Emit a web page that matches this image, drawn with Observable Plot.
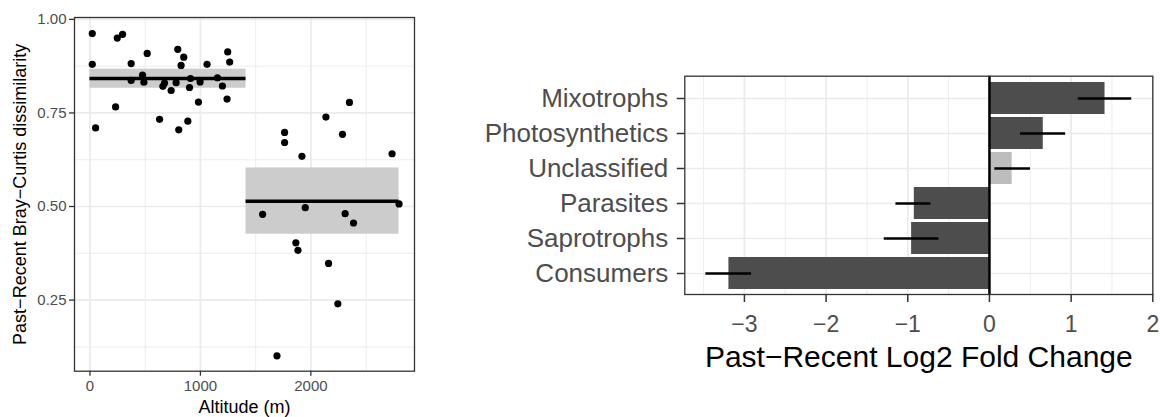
<!DOCTYPE html>
<html>
<head>
<meta charset="utf-8">
<script src="https://cdn.jsdelivr.net/npm/d3@7"></script>
<script src="https://cdn.jsdelivr.net/npm/@observablehq/plot@0.6"></script>
<style>
  html, body { margin: 0; padding: 0; background: white; }
  #wrap { position: relative; width: 1160px; height: 417px; overflow: hidden; background: white; }
  #left { position: absolute; left: 0; top: 0; }
  #right { position: absolute; left: 460px; top: 0; }
</style>
</head>
<body>
<div id="wrap"><div id="left"></div><div id="right"></div></div>
<script>
// ---- Left panel data: altitude vs past-recent Bray-Curtis dissimilarity ----
const altitude = [21, 21, 51, 232, 247, 295, 373, 373, 476, 488, 518, 630, 660, 675, 735, 780, 795, 804, 849, 825, 910, 901, 886, 982, 997, 1060, 1154, 1199, 1241, 1247, 1265,
  1563, 1693, 1762, 1762, 1919, 1864, 1883, 1949, 2136, 2160, 2244, 2286, 2310, 2349, 2386, 2735, 2798];
const dissimilarity = [0.962, 0.880, 0.710, 0.766, 0.950, 0.960, 0.882, 0.837, 0.851, 0.832, 0.909, 0.733, 0.821, 0.830, 0.810, 0.831, 0.920, 0.705, 0.899, 0.877, 0.842, 0.818, 0.728, 0.779, 0.833, 0.880, 0.844, 0.822, 0.787, 0.913, 0.886,
  0.479, 0.101, 0.698, 0.671, 0.634, 0.403, 0.383, 0.497, 0.739, 0.348, 0.240, 0.693, 0.481, 0.778, 0.456, 0.641, 0.507];
const groupStart = [0, 1413];
const groupEnd = [1413, 2798];
const groupMean = [0.842, 0.514];
const groupLow = [0.816, 0.426];
const groupHigh = [0.867, 0.603];

const altTicks = [0, 1000, 2000];
const altMinor = [500, 1500, 2500];
const dissTicks = [0.25, 0.50, 0.75, 1.00];
const dissMinor = [0.125, 0.375, 0.625, 0.875];

// ---- Right panel data: log2 fold change by trophic group ----
const categories = ["Mixotrophs", "Photosynthetics", "Unclassified", "Parasites", "Saprotrophs", "Consumers"];
const foldChange = [1.415, 0.659, 0.278, -0.920, -0.953, -3.19];
const foldLow = [1.088, 0.380, 0.066, -1.145, -1.288, -3.472];
const foldHigh = [1.742, 0.933, 0.503, -0.716, -0.618, -2.912];
const significant = [true, true, false, true, true, true];

const fcTicks = [-3, -2, -1, 0, 1, 2];
const fcMinor = [-3.5, -2.5, -1.5, -0.5, 0.5, 1.5];

const font = "'Liberation Sans', Arial, Helvetica, sans-serif";
const gridMajor = "#ebebeb";

// ---- Left chart ----
const pts = altitude.map((a, i) => ({a, d: dissimilarity[i]}));
const groups = groupStart.map((s, i) => ({s, e: groupEnd[i], m: groupMean[i], lo: groupLow[i], hi: groupHigh[i]}));

const left = Plot.plot({
  width: 420,
  height: 417,
  marginLeft: 74,
  marginRight: 6,
  marginTop: 17,
  marginBottom: 46.3,
  style: {fontFamily: font, background: "white", overflow: "visible"},
  x: {domain: [-140, 2938]},
  y: {domain: [0.06, 1.005]},
  marks: [
    Plot.ruleX(altMinor, {stroke: gridMajor, strokeWidth: 0.9}),
    Plot.ruleY(dissMinor, {stroke: gridMajor, strokeWidth: 0.9}),
    Plot.ruleX(altTicks, {stroke: gridMajor, strokeWidth: 1.7}),
    Plot.ruleY(dissTicks, {stroke: gridMajor, strokeWidth: 1.7}),
    Plot.rect(groups, {x1: "s", x2: "e", y1: "lo", y2: "hi", fill: "#cccccc"}),
    Plot.ruleY(groups, {x1: "s", x2: "e", y: "m", stroke: "black", strokeWidth: 3.5}),
    Plot.dot(pts, {x: "a", y: "d", r: 3.6, fill: "black", stroke: "none"}),
    Plot.frame({stroke: "#333333", strokeWidth: 1.3}),
    Plot.axisX(altTicks, {tickSize: 5, tickPadding: 4, fontSize: 15, fill: "#4d4d4d", stroke: "#333333", strokeWidth: 1.3, tickFormat: d3.format("d"), label: null}),
    Plot.axisY(dissTicks, {tickSize: 5, tickPadding: 3, fontSize: 15, fill: "#4d4d4d", stroke: "#333333", strokeWidth: 1.3, tickFormat: d3.format(".2f"), label: null}),
    Plot.text(["Altitude (m)"], {text: d => d, frameAnchor: "bottom", lineAnchor: "middle", dy: 36, fontSize: 18, fill: "black"}),
    Plot.text(["Past\u2212Recent Bray\u2212Curtis dissimilarity"], {text: d => d, frameAnchor: "left", textAnchor: "middle", lineAnchor: "middle", dx: -54, rotate: -90, fontSize: 18, fill: "black"})
  ]
});
document.getElementById("left").appendChild(left);

// ---- Right chart ----
const rows = categories.map((c, i) => ({c, v: foldChange[i], lo: foldLow[i], hi: foldHigh[i], sig: significant[i]}));

const right = Plot.plot({
  width: 700,
  height: 417,
  marginLeft: 224.3,
  marginRight: 7.7,
  marginTop: 75.7,
  marginBottom: 123,
  style: {fontFamily: font, background: "white", overflow: "visible"},
  x: {domain: [-3.73, 2.0]},
  y: {domain: categories, paddingInner: 0.1, paddingOuter: 0.15},
  marks: [
    Plot.ruleX(fcMinor, {stroke: gridMajor, strokeWidth: 0.9}),
    Plot.ruleX(fcTicks, {stroke: gridMajor, strokeWidth: 1.7}),
    Plot.ruleY(categories, {stroke: gridMajor, strokeWidth: 1.7}),
    Plot.barX(rows, {y: "c", x1: 0, x2: "v", fill: d => d.sig ? "#4d4d4d" : "#bdbdbd"}),
    Plot.ruleX([0], {stroke: "black", strokeWidth: 2.5}),
    Plot.ruleY(rows, {y: "c", x1: "lo", x2: "hi", stroke: "black", strokeWidth: 2.6}),
    Plot.frame({stroke: "#333333", strokeWidth: 1.3}),
    Plot.axisX(fcTicks, {tickSize: 8, tickPadding: 13, fontSize: 23, fill: "#4d4d4d", stroke: "#333333", strokeWidth: 1.5, label: null}),
    Plot.axisY({tickSize: 7.5, tickPadding: 9, fontSize: 26, fill: "#4d4d4d", stroke: "#333333", strokeWidth: 1.5, label: null}),
    Plot.text(["Past\u2212Recent Log2 Fold Change"], {text: d => d, frameAnchor: "bottom", lineAnchor: "middle", dy: 62.7, fontSize: 30, fill: "black"})
  ]
});
document.getElementById("right").appendChild(right);
</script>
</body>
</html>
